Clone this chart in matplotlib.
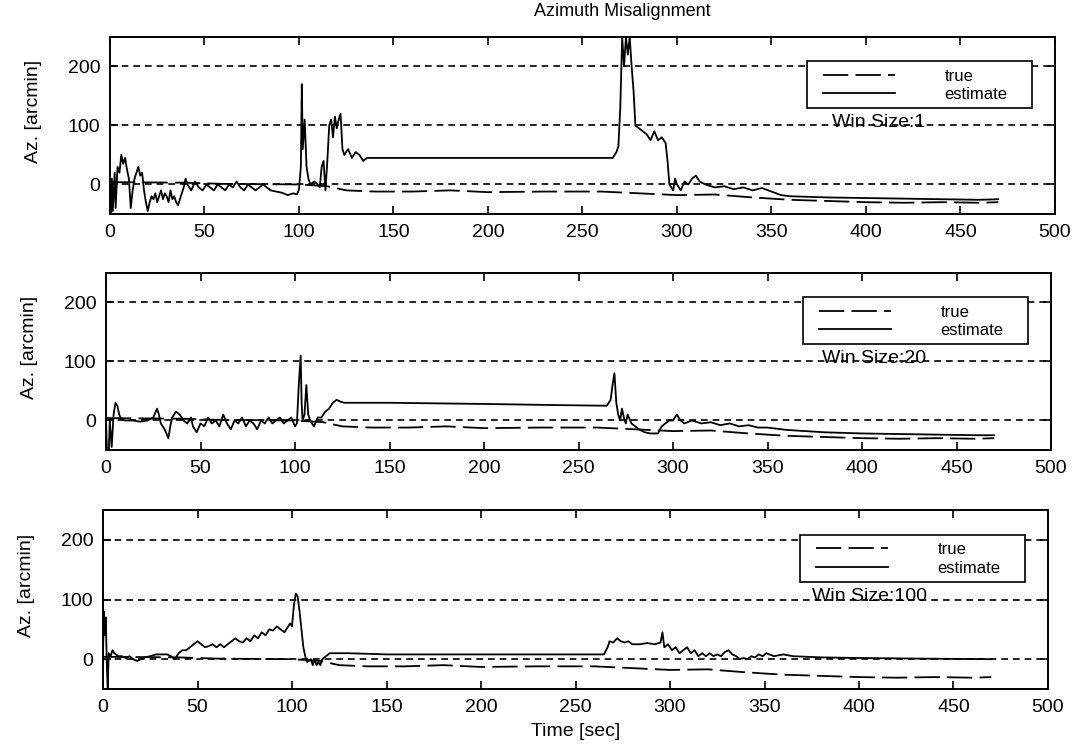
import matplotlib.pyplot as plt
from matplotlib.patches import Rectangle
import numpy as np

plt.rcParams['font.family'] = ['Liberation Sans', 'DejaVu Sans']

# true azimuth misalignment (same in all three runs)
t_true = [0, 40, 60, 100, 115, 125, 140, 160, 180, 200, 230, 260, 280, 300, 320,
          340, 360, 380, 400, 420, 440, 460, 470]
az_true = [4, 3, 1, 0, -3, -10, -12, -12, -10, -13, -12, -12, -15, -18, -17,
           -22, -26, -28, -30, -31, -30, -31, -30]

# estimate, window size 1
t_w1 = [0, 0.5, 1, 1.5, 2.5, 3, 4, 5, 6, 7, 8, 9, 10, 11, 12, 13, 14, 15, 16, 17,
        18, 19, 20, 21, 22, 23, 24, 25, 26, 27, 28, 29, 30, 31, 32, 33, 34, 35, 36,
        37, 38, 39, 40, 41, 43, 45, 47, 49, 51, 53, 55, 57, 59, 61, 63, 65, 67, 69,
        71, 73, 75, 77, 79, 81, 83, 85, 88, 91, 94, 97, 99, 100, 101, 101.5, 102,
        103, 104, 105, 106, 108, 110, 111, 112, 113, 114, 115, 116, 117, 118, 119,
        120, 121, 122, 123, 124, 126, 128, 130, 132, 134, 136, 266, 268, 269, 270,
        271, 272, 273, 274, 275, 276, 277, 278, 280, 282, 284, 286, 288, 290, 292,
        294, 295, 296, 298, 299, 300, 302, 304, 306, 308, 310, 312, 315, 320, 325,
        330, 335, 340, 345, 350, 355, 360, 370, 380, 400, 420, 440, 460, 470]
az_w1 = [0, -50, 10, -45, 20, -40, 30, 20, 50, 35, 45, 25, 10, -40, -10, 10, 20, 30,
         15, 20, -10, -30, -45, -30, -20, -25, -15, -30, -20, -10, -25, -15, -20, -30,
         -10, -25, -20, -30, -35, -25, -15, -5, 10, 0, -10, 5, -5, -10, 0, -5, -10,
         0, -5, -10, 0, -5, 5, -5, -10, 0, -5, -10, -5, 0, -5, -10, -12, -14, -18,
         -15, -17, -8, 30, 170, 60, 110, 30, 10, 0, 5, 0, -5, 30, 40, -10, 40, 100,
         110, 80, 115, 95, 110, 120, 60, 50, 60, 45, 55, 50, 40, 45, 45, 55, 65, 130,
         250, 200, 250, 220, 250, 200, 160, 100, 95, 90, 85, 75, 90, 75, 80, 70, 40,
         0, -10, 10, 0, -10, 5, 0, 10, 15, 5, 0, -5, -3, -8, -5, -10, -6, -12, -18,
         -20, -21, -22, -23, -24, -25, -26, -25]

# estimate, window size 20
t_w20 = [0, 0.5, 1.5, 2, 3, 4, 5, 6, 7, 8, 10, 14, 18, 22, 25, 27, 28, 29, 31, 33,
         34, 35, 37, 39, 41, 43, 45, 46, 48, 50, 52, 54, 56, 58, 60, 62, 64, 66, 68,
         70, 72, 74, 76, 78, 80, 82, 84, 86, 88, 90, 92, 94, 96, 98, 100, 101, 102,
         103, 103.5, 104, 105, 106, 107, 108, 110, 112, 114, 116, 118, 120, 122, 124,
         126, 150, 200, 240, 265, 267, 268, 269, 270, 271, 272, 273, 274, 275, 276,
         278, 280, 282, 285, 288, 292, 294, 296, 298, 300, 302, 304, 306, 310, 315,
         320, 325, 330, 335, 340, 345, 350, 360, 370, 380, 400, 420, 440, 460, 470]
az_w20 = [0, -50, -50, 0, -45, 10, 30, 25, 10, 2, 0, 0, -2, 0, 5, 20, 10, -5, -15,
          -30, -10, 5, 15, 10, 0, -5, 5, -10, -20, -5, -10, 5, -5, 0, -10, 10, -5,
          -15, 0, -5, 5, -10, 0, -5, -15, 0, -5, 5, -5, 0, 5, -5, 0, 5, -10, -5, 60,
          110, 30, 0, 10, 60, 10, 0, -10, 5, 5, 15, 20, 30, 35, 32, 30, 30, 28, 26, 25,
          35, 60, 80, 30, 10, 0, 20, 5, -5, 10, -5, -10, -15, -20, -22, -22, -10, -5,
          0, 0, 10, 0, -5, 0, -5, -3, -8, -5, -10, -8, -12, -12, -16, -18, -20, -22,
          -23, -24, -25, -25]

# estimate, window size 100
t_w100 = [0, 0.5, 1, 1.5, 2, 2.5, 3, 4, 5, 6, 8, 10, 12, 14, 16, 18, 20, 22, 25, 28,
          31, 34, 36, 38, 40, 42, 44, 46, 48, 50, 52, 54, 56, 58, 60, 62, 64, 66, 68,
          70, 72, 74, 76, 78, 80, 82, 84, 86, 88, 90, 92, 94, 96, 98, 99, 100, 101,
          102, 103, 104, 105, 106, 107, 108, 110, 111, 112, 113, 114, 115, 116, 118,
          120, 125, 130, 150, 200, 265, 267, 268, 270, 272, 274, 276, 278, 280, 284,
          288, 292, 295, 296, 297, 299, 301, 303, 305, 307, 309, 311, 313, 315, 317,
          319, 321, 323, 325, 327, 329, 331, 333, 335, 337, 339, 341, 343, 345, 347,
          349, 351, 355, 360, 365, 380, 400, 430, 470]
az_w100 = [10, 80, 40, 70, -10, -50, 10, 5, 15, 10, 5, 5, 2, 5, 0, -3, 0, 3, 5, 8, 8,
           8, 5, 0, 10, 15, 15, 20, 25, 30, 25, 20, 22, 25, 20, 25, 20, 25, 30, 35,
           30, 28, 35, 30, 40, 35, 45, 40, 50, 48, 55, 50, 45, 55, 60, 55, 90, 110,
           105, 80, 50, 20, 5, -5, 0, -10, 0, -10, -5, -10, 0, 5, 10, 10, 10, 8, 8, 8,
           20, 30, 28, 35, 30, 28, 30, 25, 25, 27, 25, 28, 45, 20, 25, 15, 20, 10, 15,
           20, 10, 15, 5, 10, 5, 10, 5, 8, 5, 12, 15, 8, 5, 0, 2, 0, 5, 3, 8, 5, 10,
           5, 8, 5, 3, 2, 1, 0]

series = [(t_w1, az_w1, 'Win Size:1'),
          (t_w20, az_w20, 'Win Size:20'),
          (t_w100, az_w100, 'Win Size:100')]

fig = plt.figure(figsize=(10.73, 7.44), dpi=100)
# the scanned panels sit slightly shifted from each other
boxes = [[0.1025, 0.7124, 0.8807, 0.2379],
         [0.0988, 0.3952, 0.8807, 0.2379],
         [0.0960, 0.0739, 0.8807, 0.2406]]
win_x = [382, 379, 375]

for i, (t, az, win) in enumerate(series):
    ax = fig.add_axes(boxes[i])
    ax.plot(t_true, az_true, color='k', lw=1.3, dashes=(14, 4), label='true')
    ax.plot(t, az, color='k', lw=1.3, label='estimate')
    ax.set_xlim(0, 500)
    ax.set_ylim(-50, 250)
    ax.set_xticks(np.arange(0, 501, 50))
    ax.set_yticks([0, 100, 200])
    ax.yaxis.grid(True, color='k', linestyle=(0, (4, 3)), lw=1.2)
    ax.tick_params(direction='in', top=True, right=True, length=6, width=1.2,
                   labelsize=14, pad=7)
    for s in ax.spines.values():
        s.set_linewidth(1.4)
    ax.set_ylabel('Az. [arcmin]', fontsize=14)
    ax.yaxis.set_label_coords(-0.072, 0.58)

    # legend: frame drawn separately so the padding matches the scan
    ax.add_patch(Rectangle((0.7376, 0.60), 0.238, 0.262, transform=ax.transAxes,
                           facecolor='white', edgecolor='k', lw=1.2, zorder=4))
    leg = ax.legend(loc='upper left', bbox_to_anchor=(0.7545, 0.82),
                    borderaxespad=0, borderpad=0, fontsize=12, handlelength=4.3,
                    handletextpad=3.0, labelspacing=0.2, frameon=False)
    leg.set_zorder(5)
    ax.text(win_x[i], 105, win, fontsize=14, va='center', ha='left', zorder=6)
    if i == 2:
        ax.set_xlabel('Time [sec]', fontsize=14, labelpad=5)

fig.text(0.58, 0.984, 'Azimuth Misalignment', fontsize=13, ha='center', va='center')
fig.savefig('out.png', dpi=100)
